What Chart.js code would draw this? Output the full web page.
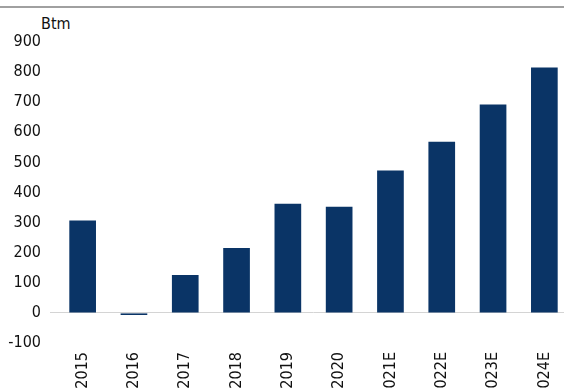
<!DOCTYPE html>
<html>
<head>
<meta charset="utf-8">
<script src="https://cdn.jsdelivr.net/npm/chart.js@4"></script>
<style>
  html, body { margin: 0; padding: 0; width: 564px; height: 390px; overflow: hidden; background: #fff; }
  #topline { position: absolute; left: 0; top: 6px; width: 564px; height: 2px; background: #a0a0a0; }
  #unit { position: absolute; left: 41px; top: 14px; font: 16px "DejaVu Sans Condensed", "DejaVu Sans", sans-serif; color: #111; }
  #wrap { position: absolute; left: 0; top: 0; width: 576px; height: 400px; }
</style>
</head>
<body>
<div id="topline"></div>
<div id="unit">Btm</div>
<div id="wrap"><canvas id="myChart" width="576" height="400"></canvas></div>
<script>
const years = ['2015', '2016', '2017', '2018', '2019', '2020', '2021E', '2022E', '2023E', '2024E'];
const values = [307, -7, 126, 216, 363, 353, 473, 569, 692, 815];
const yTicks = [-100, 0, 100, 200, 300, 400, 500, 600, 700, 800, 900];

const ctx = document.getElementById('myChart');
const labelFont = { family: '"DejaVu Sans Condensed", "DejaVu Sans", sans-serif', size: 16 };

new Chart(ctx, {
  type: 'bar',
  data: {
    labels: years,
    datasets: [{
      data: values,
      backgroundColor: '#0a3466',
      barPercentage: 0.52,
      categoryPercentage: 1
    }]
  },
  options: {
    responsive: false,
    animation: false,
    layout: {
      padding: { top: 42, right: 6, left: 0, bottom: 0 }
    },
    plugins: {
      legend: { display: false },
      tooltip: { enabled: false }
    },
    scales: {
      x: {
        grid: { display: false, drawTicks: false },
        border: { display: false },
        ticks: {
          minRotation: 90,
          maxRotation: 90,
          padding: 9,
          color: '#111',
          font: labelFont
        },
        afterFit: (scale) => { scale.height = 57; }
      },
      y: {
        min: yTicks[0],
        max: yTicks[yTicks.length - 1],
        afterBuildTicks: (scale) => { scale.ticks = yTicks.map(v => ({ value: v })); },
        grid: {
          color: (c) => c.tick && c.tick.value === 0 ? '#d4d4d4' : 'rgba(0,0,0,0)',
          tickLength: 7
        },
        border: { display: false },
        ticks: {
          padding: 9,
          color: '#111',
          font: labelFont
        },
        afterFit: (scale) => { scale.width = 57; }
      }
    }
  }
});
</script>
</body>
</html>
